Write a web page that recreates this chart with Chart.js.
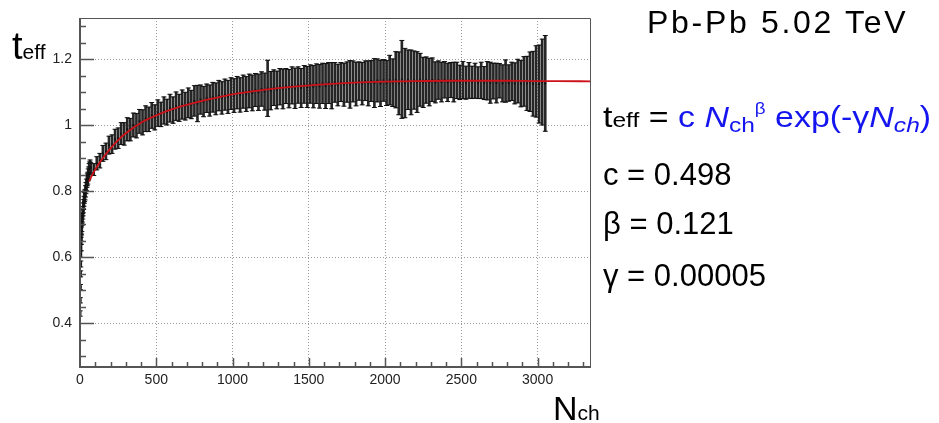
<!DOCTYPE html>
<html>
<head>
<meta charset="utf-8">
<script src="https://cdn.jsdelivr.net/npm/chart.js@4.4.1/dist/chart.umd.min.js"></script>
<style>
  body { margin: 0; background: #fff; }
  #wrap { position: relative; width: 939px; height: 423px; font-family: "Liberation Sans", Arial, sans-serif; }
  #wrap canvas { position: absolute; left: 0; top: 0; }
  .lbl { position: absolute; white-space: nowrap; line-height: 1; color: #000; }
  .blue { color: #1515f0; }
  .wide { transform: scaleX(1.17); transform-origin: 0 0; }
</style>
</head>
<body>
<div id="wrap">
  <canvas id="chart" width="939" height="423"></canvas>
  <div class="lbl" style="left:12px;top:27px;font-size:38px">t<span style="font-size:21px">eff</span></div>
  <div class="lbl" style="left:647px;top:6px;font-size:32px;letter-spacing:2.7px">Pb-Pb 5.02 TeV</div>
  <div class="lbl wide" style="left:603px;top:101px;font-size:29px">t<span style="font-size:21px">eff</span> = <span class="blue">c <i>N</i><span style="font-size:21px;vertical-align:-5px">ch</span><span style="font-size:16px;vertical-align:13px">β</span> exp(-γ<i>N</i><span style="font-size:21px;vertical-align:-5px"><i>ch</i></span>)</span></div>
  <div class="lbl" style="left:603px;top:159px;font-size:31px">c = 0.498</div>
  <div class="lbl" style="left:603px;top:208px;font-size:31px">β = 0.121</div>
  <div class="lbl" style="left:603px;top:260px;font-size:31px">γ = 0.00005</div>
  <div class="lbl" style="left:553px;top:391px;font-size:34px">N<span style="font-size:21px">ch</span></div>
</div>
<script>
// axis ticks
const xTicks = [0, 500, 1000, 1500, 2000, 2500, 3000];
const yTicks = [0.4, 0.6, 0.8, 1, 1.2];

// low multiplicity points (dense)
const lowN = [1, 2, 3, 4, 5, 6, 7, 8, 9, 10, 12, 14, 16, 18, 20, 22, 24, 26, 28, 30, 33, 36, 39, 42, 45, 48, 51, 54, 57, 60, 63, 66];
const lowT = [0.43, 0.47, 0.51, 0.55, 0.58, 0.61, 0.63, 0.65, 0.66, 0.68, 0.69, 0.71, 0.72, 0.73, 0.74, 0.75, 0.76, 0.77, 0.78, 0.785, 0.79, 0.80, 0.81, 0.82, 0.83, 0.835, 0.84, 0.85, 0.855, 0.865, 0.87, 0.875];
const lowErr = [0.008, 0.008, 0.008, 0.009, 0.009, 0.01, 0.01, 0.011, 0.011, 0.012, 0.012, 0.013, 0.013, 0.014, 0.014, 0.015, 0.015, 0.015, 0.016, 0.016, 0.016, 0.017, 0.017, 0.017, 0.018, 0.018, 0.018, 0.018, 0.019, 0.019, 0.019, 0.02];

// main points
const nch = [
  70, 90, 110, 130, 150, 170, 190, 210, 230, 250,
  270, 290, 310, 330, 350, 370, 390, 410, 430, 450,
  470, 490, 510, 530, 550, 570, 590, 610, 630, 650,
  670, 690, 710, 730, 750, 770, 790, 810, 830, 850,
  870, 890, 910, 930, 950, 970, 990, 1010, 1030, 1050,
  1070, 1090, 1110, 1130, 1150, 1170, 1190, 1210, 1230, 1250,
  1270, 1290, 1310, 1330, 1350, 1370, 1390, 1410, 1430, 1450,
  1470, 1490, 1510, 1530, 1550, 1570, 1590, 1610, 1630, 1650,
  1670, 1690, 1710, 1730, 1750, 1770, 1790, 1810, 1830, 1850,
  1870, 1890, 1910, 1930, 1950, 1970, 1990, 2010, 2030, 2050,
  2070, 2090, 2110, 2130, 2150, 2170, 2190, 2210, 2230, 2250,
  2270, 2290, 2310, 2330, 2350, 2370, 2390, 2410, 2430, 2450,
  2470, 2490, 2510, 2530, 2550, 2570, 2590, 2610, 2630, 2650,
  2670, 2690, 2710, 2730, 2750, 2770, 2790, 2810, 2830, 2850,
  2870, 2890, 2910, 2930, 2950, 2970, 2990, 3010, 3030, 3050
];
const teff = [
  0.872, 0.866, 0.885, 0.893, 0.915, 0.921, 0.940, 0.943, 0.958, 0.961,
  0.975, 0.974, 0.988, 0.987, 1.001, 0.999, 1.012, 1.009, 1.020, 1.018,
  1.030, 1.024, 1.037, 1.033, 1.045, 1.040, 1.052, 1.046, 1.058, 1.053,
  1.063, 1.058, 1.068, 1.063, 1.074, 1.066, 1.078, 1.072, 1.082, 1.075,
  1.085, 1.080, 1.090, 1.083, 1.093, 1.086, 1.096, 1.090, 1.099, 1.092,
  1.102, 1.095, 1.104, 1.098, 1.107, 1.100, 1.110, 1.102, 1.112, 1.105,
  1.114, 1.107, 1.117, 1.110, 1.119, 1.111, 1.121, 1.112, 1.122, 1.113,
  1.124, 1.116, 1.125, 1.117, 1.126, 1.118, 1.127, 1.119, 1.128, 1.120,
  1.130, 1.122, 1.131, 1.123, 1.131, 1.124, 1.133, 1.125, 1.134, 1.126,
  1.135, 1.127, 1.134, 1.128, 1.136, 1.127, 1.136, 1.128, 1.137, 1.129,
  1.138, 1.127, 1.139, 1.128, 1.138, 1.130, 1.137, 1.131, 1.138, 1.130,
  1.137, 1.131, 1.138, 1.130, 1.137, 1.131, 1.138, 1.130, 1.137, 1.131,
  1.136, 1.130, 1.137, 1.129, 1.136, 1.130, 1.135, 1.129, 1.136, 1.128,
  1.135, 1.129, 1.134, 1.128, 1.135, 1.127, 1.134, 1.128, 1.133, 1.127,
  1.134, 1.126, 1.133, 1.127, 1.132, 1.126, 1.133, 1.125, 1.131, 1.127
];
const err = [
  0.016, 0.018, 0.020, 0.022, 0.024, 0.025, 0.027, 0.028, 0.030, 0.031,
  0.033, 0.034, 0.035, 0.034, 0.036, 0.037, 0.036, 0.038, 0.039, 0.037,
  0.039, 0.038, 0.040, 0.037, 0.041, 0.039, 0.042, 0.040, 0.043, 0.041,
  0.044, 0.042, 0.045, 0.043, 0.046, 0.055, 0.044, 0.046, 0.043, 0.047,
  0.045, 0.048, 0.046, 0.049, 0.047, 0.050, 0.048, 0.051, 0.049, 0.052,
  0.050, 0.053, 0.051, 0.054, 0.050, 0.055, 0.052, 0.056, 0.085, 0.058,
  0.054, 0.057, 0.055, 0.060, 0.053, 0.058, 0.056, 0.061, 0.055, 0.059,
  0.057, 0.062, 0.058, 0.064, 0.060, 0.066, 0.061, 0.068, 0.062, 0.070,
  0.060, 0.063, 0.059, 0.065, 0.061, 0.072, 0.062, 0.066, 0.058, 0.064,
  0.060, 0.068, 0.062, 0.074, 0.065, 0.070, 0.063, 0.068, 0.075, 0.072,
  0.085, 0.095, 0.118, 0.105, 0.090, 0.098, 0.088, 0.092, 0.080, 0.076,
  0.070, 0.072, 0.066, 0.062, 0.058, 0.060, 0.055, 0.058, 0.053, 0.060,
  0.055, 0.052, 0.056, 0.050, 0.054, 0.049, 0.053, 0.048, 0.055, 0.050,
  0.058, 0.062, 0.054, 0.060, 0.052, 0.056, 0.064, 0.055, 0.058, 0.062,
  0.066, 0.070, 0.075, 0.082, 0.090, 0.098, 0.108, 0.118, 0.130, 0.145
];

// fit curve
const fitN = [60, 80, 100, 130, 160, 200, 250, 300, 400, 500, 600, 700, 800, 900, 1000, 1200, 1400, 1600, 1800, 2000, 2200, 2400, 2600, 2800, 3000, 3130, 3350];
const fitT = [0.83, 0.85, 0.866, 0.888, 0.907, 0.930, 0.955, 0.976, 1.008, 1.030, 1.048, 1.062, 1.074, 1.084, 1.094, 1.107, 1.117, 1.124, 1.129, 1.132, 1.134, 1.135, 1.135, 1.135, 1.134, 1.134, 1.133];

const allN = lowN.concat(nch);
const allT = lowT.concat(teff);
const allE = lowErr.concat(err);

const barData = allN.map((n, i) => ({ x: n, y: [allT[i] - allE[i], allT[i] + allE[i]] }));
const capData = [];
allN.forEach((n, i) => {
  capData.push({ x: n, y: allT[i] + allE[i] });
  capData.push({ x: n, y: allT[i] - allE[i] });
});
const ptData = allN.map((n, i) => ({ x: n, y: allT[i] }));
const fitData = fitN.map((n, i) => ({ x: n, y: fitT[i] }));

// inward ROOT-style ticks and frame
const framePlugin = {
  id: 'frame',
  afterDraw(chart) {
    const { ctx, chartArea: a, scales: { x, y } } = chart;
    ctx.save();
    ctx.strokeStyle = '#555';
    ctx.lineWidth = 1;
    ctx.beginPath();
    ctx.moveTo(a.left, a.top + 0.5);
    ctx.lineTo(a.right - 0.5, a.top + 0.5);
    ctx.lineTo(a.right - 0.5, a.bottom);
    ctx.stroke();
    ctx.lineWidth = 2;
    ctx.beginPath();
    ctx.moveTo(a.left, a.top);
    ctx.lineTo(a.left, a.bottom);
    ctx.lineTo(a.right, a.bottom);
    ctx.stroke();

    ctx.lineWidth = 1.5;
    ctx.beginPath();
    for (let v = 0.3; v < y.max; v += 0.05) {
      const py = Math.round(y.getPixelForValue(v)) + 0.5;
      const major = yTicks.some(t => Math.abs(t - v) < 1e-6);
      ctx.moveTo(a.left, py);
      ctx.lineTo(a.left + (major ? 14 : 6), py);
    }
    for (let v = 100; v < x.max; v += 100) {
      const px = Math.round(x.getPixelForValue(v)) + 0.5;
      const major = xTicks.includes(v);
      ctx.moveTo(px, a.bottom);
      ctx.lineTo(px, a.bottom - (major ? 9 : 5));
    }
    ctx.stroke();
    ctx.restore();
  }
};

const tickFont = { family: '"Liberation Sans", Arial, sans-serif', size: 14 };

new Chart(document.getElementById('chart').getContext('2d'), {
  type: 'scatter',
  data: {
    datasets: [
      {
        type: 'line',
        data: fitData,
        borderColor: '#cc1218',
        borderWidth: 1.8,
        pointRadius: 0,
        cubicInterpolationMode: 'monotone',
        order: 0
      },
      {
        type: 'bar',
        data: barData,
        backgroundColor: '#262626',
        barThickness: 2,
        grouped: false,
        order: 2
      },
      {
        data: capData,
        pointStyle: 'line',
        pointRadius: 2.5,
        borderColor: '#111',
        borderWidth: 1,
        order: 1
      },
      {
        data: ptData,
        pointStyle: 'rect',
        pointRadius: 1.3,
        backgroundColor: '#111',
        borderWidth: 0,
        order: 1
      }
    ]
  },
  options: {
    responsive: false,
    animation: false,
    events: [],
    layout: { padding: { left: 0, right: 348, top: 18, bottom: 0 } },
    plugins: { legend: { display: false }, tooltip: { enabled: false } },
    scales: {
      x: {
        type: 'linear',
        min: 0,
        max: 3350,
        offset: false,
        afterBuildTicks: s => { s.ticks = xTicks.map(v => ({ value: v })); },
        afterFit: s => { s.height = 56; },
        ticks: { color: '#222', font: tickFont, padding: 5, maxRotation: 0, callback: v => String(v) },
        grid: { color: '#9a9a9a', lineWidth: 1, drawTicks: false, offset: false },
        border: { display: false, dash: [1, 2] }
      },
      y: {
        type: 'linear',
        min: 0.268,
        max: 1.325,
        afterBuildTicks: s => { s.ticks = yTicks.map(v => ({ value: v })); },
        afterFit: s => { s.width = 80; },
        ticks: { color: '#222', font: tickFont, padding: 8, callback: v => String(v) },
        grid: { color: '#9a9a9a', lineWidth: 1, drawTicks: false },
        border: { display: false, dash: [1, 2] }
      }
    }
  },
  plugins: [framePlugin]
});
</script>
</body>
</html>
